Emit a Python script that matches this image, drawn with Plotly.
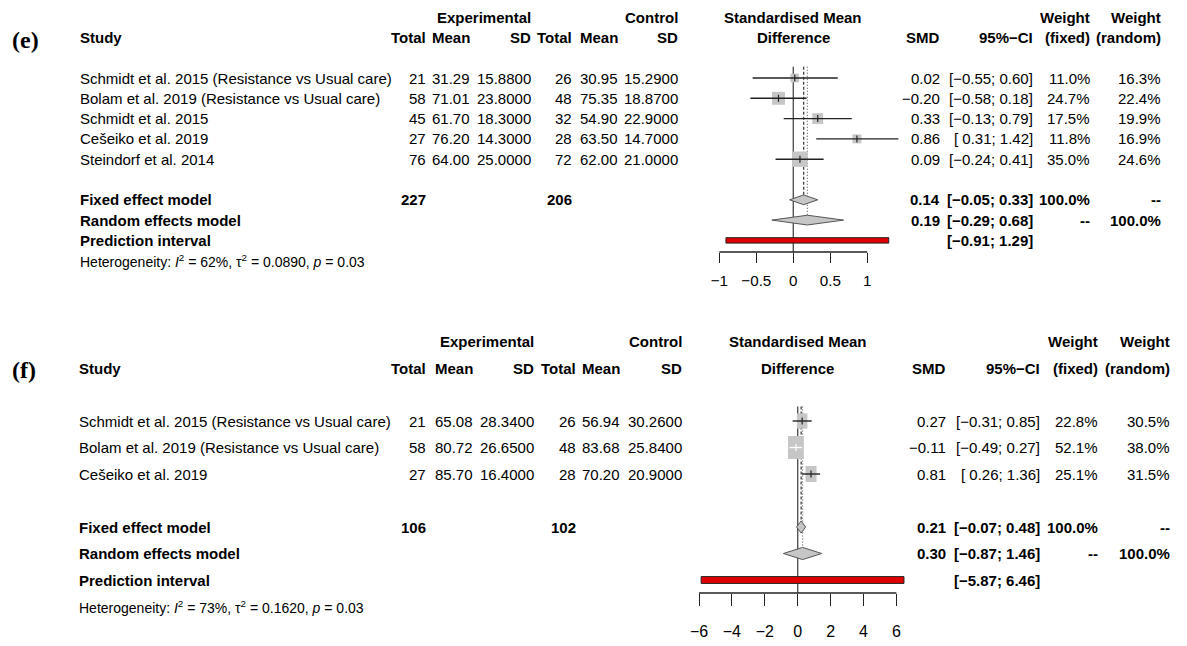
import plotly.graph_objects as go
import math

W, H = 1187, 646
FONT = "Liberation Sans, Arial, Helvetica, sans-serif"
MINUS = "\u2212"

# ------------------------------------------------------------------ data (e)
e_study = ["Schmidt et al. 2015 (Resistance vs Usual care)",
           "Bolam et al. 2019 (Resistance vs Usual care)",
           "Schmidt et al. 2015", "Cešeiko et al. 2019", "Steindorf et al. 2014"]
e_exp_n = [21, 58, 45, 27, 76]
e_exp_mean = [31.29, 71.01, 61.70, 76.20, 64.00]
e_exp_sd = [15.88, 23.80, 18.30, 14.30, 25.00]
e_ctl_n = [26, 48, 32, 28, 72]
e_ctl_mean = [30.95, 75.35, 54.90, 63.50, 62.00]
e_ctl_sd = [15.29, 18.87, 22.90, 14.70, 21.00]
e_smd = [0.02, -0.20, 0.33, 0.86, 0.09]
e_lo = [-0.55, -0.58, -0.13, 0.31, -0.24]
e_hi = [0.60, 0.18, 0.79, 1.42, 0.41]
e_wfix = [11.0, 24.7, 17.5, 11.8, 35.0]
e_wran = [16.3, 22.4, 19.9, 16.9, 24.6]
e_fixed = [0.14, -0.05, 0.33]
e_random = [0.19, -0.29, 0.68]
e_pred = [-0.91, 1.29]
e_totals = [227, 206]
e_het = ["62%", "0.0890", "0.03"]
e_ticks = [-1, -0.5, 0, 0.5, 1]
e_ticklabels = [MINUS + "1", MINUS + "0.5", "0", "0.5", "1"]

# ------------------------------------------------------------------ data (f)
f_study = ["Schmidt et al. 2015 (Resistance vs Usual care)",
           "Bolam et al. 2019 (Resistance vs Usual care)",
           "Cešeiko et al. 2019"]
f_exp_n = [21, 58, 27]
f_exp_mean = [65.08, 80.72, 85.70]
f_exp_sd = [28.34, 26.65, 16.40]
f_ctl_n = [26, 48, 28]
f_ctl_mean = [56.94, 83.68, 70.20]
f_ctl_sd = [30.26, 25.84, 20.90]
f_smd = [0.27, -0.11, 0.81]
f_lo = [-0.31, -0.49, 0.26]
f_hi = [0.85, 0.27, 1.36]
f_wfix = [22.8, 52.1, 25.1]
f_wran = [30.5, 38.0, 31.5]
f_fixed = [0.21, -0.07, 0.48]
f_random = [0.30, -0.87, 1.46]
f_pred = [-5.87, 6.46]
f_totals = [106, 102]
f_het = ["73%", "0.1620", "0.03"]
f_ticks = [-6, -4, -2, 0, 2, 4, 6]
f_ticklabels = [MINUS + "6", MINUS + "4", MINUS + "2", "0", "2", "4", "6"]

panels = [
    dict(tag="(e)", tag_y=40, study=e_study, exp_n=e_exp_n, exp_mean=e_exp_mean, exp_sd=e_exp_sd,
         ctl_n=e_ctl_n, ctl_mean=e_ctl_mean, ctl_sd=e_ctl_sd, smd=e_smd, lo=e_lo, hi=e_hi,
         wfix=e_wfix, wran=e_wran, fixed=e_fixed, random=e_random, pred=e_pred,
         totals=e_totals, het=e_het, ticks=e_ticks, ticklabels=e_ticklabels,
         # layout geometry (pixels)
         row0=78, drow=20.3, zero_px=793.3, pxu=74.0, dom=(700, 935), axis_px=252,
         ticklen=10, standoff=5, sq_k=2.6, sq_aspect=1.0, size=15, ticksize=15.2, hetsize=14,
         cols=dict(study=78, exp_n=428, exp_mean=472, exp_sd=533, ctl_n=574, ctl_mean=620,
                   ctl_sd=680, smd=942, ci=1035, wfix=1092, wran=1163, center=793.3),
         xa="x", ya="y"),
    dict(tag="(f)", tag_y=370, study=f_study, exp_n=f_exp_n, exp_mean=f_exp_mean, exp_sd=f_exp_sd,
         ctl_n=f_ctl_n, ctl_mean=f_ctl_mean, ctl_sd=f_ctl_sd, smd=f_smd, lo=f_lo, hi=f_hi,
         wfix=f_wfix, wran=f_wran, fixed=f_fixed, random=f_random, pred=f_pred,
         totals=f_totals, het=f_het, ticks=f_ticks, ticklabels=f_ticklabels,
         row0=421, drow=26.5, zero_px=797.7, pxu=16.45, dom=(690, 915), axis_px=593,
         ticklen=12, standoff=12, sq_k=2.2, sq_aspect=1.45, size=15, ticksize=16, hetsize=14,
         cols=dict(study=77, exp_n=428, exp_mean=475, exp_sd=536, ctl_n=578, ctl_mean=622,
                   ctl_sd=684, smd=948, ci=1042, wfix=1100, wran=1172, center=797.7),
         xa="x2", ya="y2"),
]

fig = go.Figure()
annotations = []
shapes = []


def fmt(v, d=2):
    s = f"{v:.{d}f}"
    return s.replace("-", MINUS)


def ci_text(lo, hi):
    los = fmt(lo)
    if lo >= 0:
        los = " " + los
    return f"[{los}; {fmt(hi)}]"


def txt(p, x_px, row, text, anchor="right", bold=False, size=None):
    annotations.append(dict(
        x=x_px / W, xref="paper", y=row, yref=p["ya"], text=f"<b>{text}</b>" if bold else text,
        showarrow=False, xanchor=anchor, yanchor="middle",
        font=dict(family=FONT, size=size or p["size"], color="black")))


for p in panels:
    xa, ya = p["xa"], p["ya"]
    c = p["cols"]
    n = len(p["study"])
    r_fix, r_ran, r_pred, r_het = n + 1, n + 2, n + 3, n + 4
    axis_row = (p["axis_px"] - p["row0"]) / p["drow"]
    top_row = -0.55

    # ---------------- header
    txt(p, c["study"], -2, "Study", "left", True)
    txt(p, c["exp_sd"], -3, "Experimental", bold=True)
    txt(p, c["ctl_sd"], -3, "Control", bold=True)
    for key, lab in [("exp_n", "Total"), ("exp_mean", "Mean"), ("exp_sd", "SD"),
                     ("ctl_n", "Total"), ("ctl_mean", "Mean"), ("ctl_sd", "SD"),
                     ("smd", "SMD"), ("ci", "95%" + MINUS + "CI"),
                     ("wfix", "(fixed)"), ("wran", "(random)")]:
        txt(p, c[key], -2, lab, bold=True)
    txt(p, c["wfix"], -3, "Weight", bold=True)
    txt(p, c["wran"], -3, "Weight", bold=True)
    txt(p, c["center"], -3, "Standardised Mean", "center", True)
    txt(p, c["center"], -2, "Difference", "center", True)

    # ---------------- study rows
    for i in range(n):
        txt(p, c["study"], i, p["study"][i], "left")
        txt(p, c["exp_n"], i, str(p["exp_n"][i]))
        txt(p, c["exp_mean"], i, fmt(p["exp_mean"][i]))
        txt(p, c["exp_sd"], i, fmt(p["exp_sd"][i], 4))
        txt(p, c["ctl_n"], i, str(p["ctl_n"][i]))
        txt(p, c["ctl_mean"], i, fmt(p["ctl_mean"][i]))
        txt(p, c["ctl_sd"], i, fmt(p["ctl_sd"][i], 4))
        txt(p, c["smd"], i, fmt(p["smd"][i]))
        txt(p, c["ci"], i, ci_text(p["lo"][i], p["hi"][i]))
        txt(p, c["wfix"], i, f"{p['wfix'][i]:.1f}%")
        txt(p, c["wran"], i, f"{p['wran'][i]:.1f}%")

    # ---------------- summary rows
    txt(p, c["study"], r_fix, "Fixed effect model", "left", True)
    txt(p, c["study"], r_ran, "Random effects model", "left", True)
    txt(p, c["study"], r_pred, "Prediction interval", "left", True)
    txt(p, c["exp_n"], r_fix, str(p["totals"][0]), bold=True)
    txt(p, c["ctl_n"], r_fix, str(p["totals"][1]), bold=True)
    txt(p, c["smd"], r_fix, fmt(p["fixed"][0]), bold=True)
    txt(p, c["ci"], r_fix, ci_text(p["fixed"][1], p["fixed"][2]), bold=True)
    txt(p, c["wfix"], r_fix, "100.0%", bold=True)
    txt(p, c["wran"], r_fix, "--", bold=True)
    txt(p, c["smd"], r_ran, fmt(p["random"][0]), bold=True)
    txt(p, c["ci"], r_ran, ci_text(p["random"][1], p["random"][2]), bold=True)
    txt(p, c["wfix"], r_ran, "--", bold=True)
    txt(p, c["wran"], r_ran, "100.0%", bold=True)
    txt(p, c["ci"], r_pred, ci_text(p["pred"][0], p["pred"][1]), bold=True)
    I2, tau2, pv = p["het"]
    txt(p, c["study"], r_het,
        f"Heterogeneity: <i>I</i><sup>2</sup> = {I2}, \u03c4<sup>2</sup> = {tau2}, <i>p</i> = {pv}",
        "left", size=p["hetsize"])

    # panel tag
    annotations.append(dict(x=10 / W, xref="paper", y=1 - p["tag_y"] / H, yref="paper",
                            text=f"<b>{p['tag']}</b>", showarrow=False, xanchor="left",
                            yanchor="middle",
                            font=dict(family="Liberation Serif, Times New Roman, serif",
                                      size=24, color="black")))

    # ---------------- forest graphics
    kw = dict(xaxis=xa, yaxis=ya, showlegend=False, hoverinfo="skip")
    # reference line at 0
    fig.add_trace(go.Scatter(x=[0, 0], y=[top_row, axis_row], mode="lines",
                             line=dict(color="#555555", width=1.4), **kw))
    # fixed (dashed) and random (dotted) lines
    fig.add_trace(go.Scatter(x=[p["fixed"][0]] * 2, y=[top_row, r_fix - 0.22], mode="lines",
                             line=dict(color="#444444", width=1.3, dash="3px,2px"), **kw))
    fig.add_trace(go.Scatter(x=[p["random"][0]] * 2, y=[top_row, r_ran - 0.24], mode="lines",
                             line=dict(color="#555555", width=1.1, dash="1px,2px"), **kw))

    # squares
    inside = []
    for i in range(n):
        side_px = p["sq_k"] * math.sqrt(p["wfix"][i])
        hw = side_px / 2 / p["pxu"]
        hh = side_px * p["sq_aspect"] / 2 / p["drow"]
        x0, x1 = p["smd"][i] - hw, p["smd"][i] + hw
        fig.add_trace(go.Scatter(x=[x0, x1, x1, x0, x0], y=[i - hh, i - hh, i + hh, i + hh, i - hh],
                                 mode="lines", fill="toself", fillcolor="#C6C6C6",
                                 line=dict(width=0, color="#C6C6C6"), **kw))
        inside.append(p["lo"][i] >= x0 and p["hi"][i] <= x1)

    # CI lines and estimate ticks
    tick_h = 3.5 / p["drow"]
    for i in range(n):
        col = "white" if inside[i] else "#222222"
        fig.add_trace(go.Scatter(x=[p["lo"][i], p["hi"][i]], y=[i, i], mode="lines",
                                 line=dict(color=col, width=1.4), **kw))
        fig.add_trace(go.Scatter(x=[p["smd"][i]] * 2, y=[i - tick_h, i + tick_h], mode="lines",
                                 line=dict(color=col, width=1.2), **kw))

    # diamonds
    for r, (est, lo, hi) in [(r_fix, p["fixed"]), (r_ran, p["random"])]:
        h = 0.23 if p["drow"] > 22 else 0.24
        fig.add_trace(go.Scatter(x=[lo, est, hi, est, lo], y=[r, r - h, r, r + h, r],
                                 mode="lines", fill="toself", fillcolor="#C6C6C6",
                                 line=dict(color="#555555", width=1), **kw))

    # prediction interval bar
    bh = 2.7 / p["drow"] if p["drow"] < 22 else 3.4 / p["drow"]
    lo, hi = p["pred"]
    fig.add_trace(go.Scatter(x=[lo, hi, hi, lo, lo], y=[r_pred - bh, r_pred - bh, r_pred + bh, r_pred + bh, r_pred - bh],
                             mode="lines", fill="toself", fillcolor="#E00000",
                             line=dict(color="#222222", width=1), **kw))

    # axis baseline spanning the tick range
    shapes.append(dict(type="line", xref=xa, yref="paper", x0=p["ticks"][0], x1=p["ticks"][-1],
                       y0=1 - p["axis_px"] / H, y1=1 - p["axis_px"] / H,
                       line=dict(color="#222222", width=1.3)))

    d0, d1 = p["dom"]
    xr = [(d0 - p["zero_px"]) / p["pxu"], (d1 - p["zero_px"]) / p["pxu"]]
    yr = [(H - p["row0"]) / p["drow"], -p["row0"] / p["drow"]]
    xkey = "xaxis" if xa == "x" else "xaxis2"
    ykey = "yaxis" if ya == "y" else "yaxis2"
    fig.update_layout(**{
        xkey: dict(domain=[d0 / W, d1 / W], range=xr, anchor="free", position=1 - p["axis_px"] / H,
                   showgrid=False, zeroline=False, showline=False, ticks="outside",
                   ticklen=p["ticklen"], tickwidth=1.3, tickcolor="#222222",
                   tickvals=p["ticks"], ticktext=p["ticklabels"], ticklabelstandoff=p["standoff"],
                   tickfont=dict(family=FONT, size=p["ticksize"], color="black"), fixedrange=True),
        ykey: dict(domain=[0, 1], range=yr, showgrid=False, zeroline=False, showline=False,
                   showticklabels=False, ticks="", fixedrange=True,
                   anchor=xa),
    })

fig.update_layout(width=W, height=H, margin=dict(l=0, r=0, t=0, b=0),
                  paper_bgcolor="white", plot_bgcolor="rgba(0,0,0,0)",
                  annotations=annotations, shapes=shapes, showlegend=False)

fig.write_html("out.html", config={"displayModeBar": False},
               post_script="document.body.style.margin='0';document.body.style.padding='0';"
                           "document.body.style.overflow='hidden';")
